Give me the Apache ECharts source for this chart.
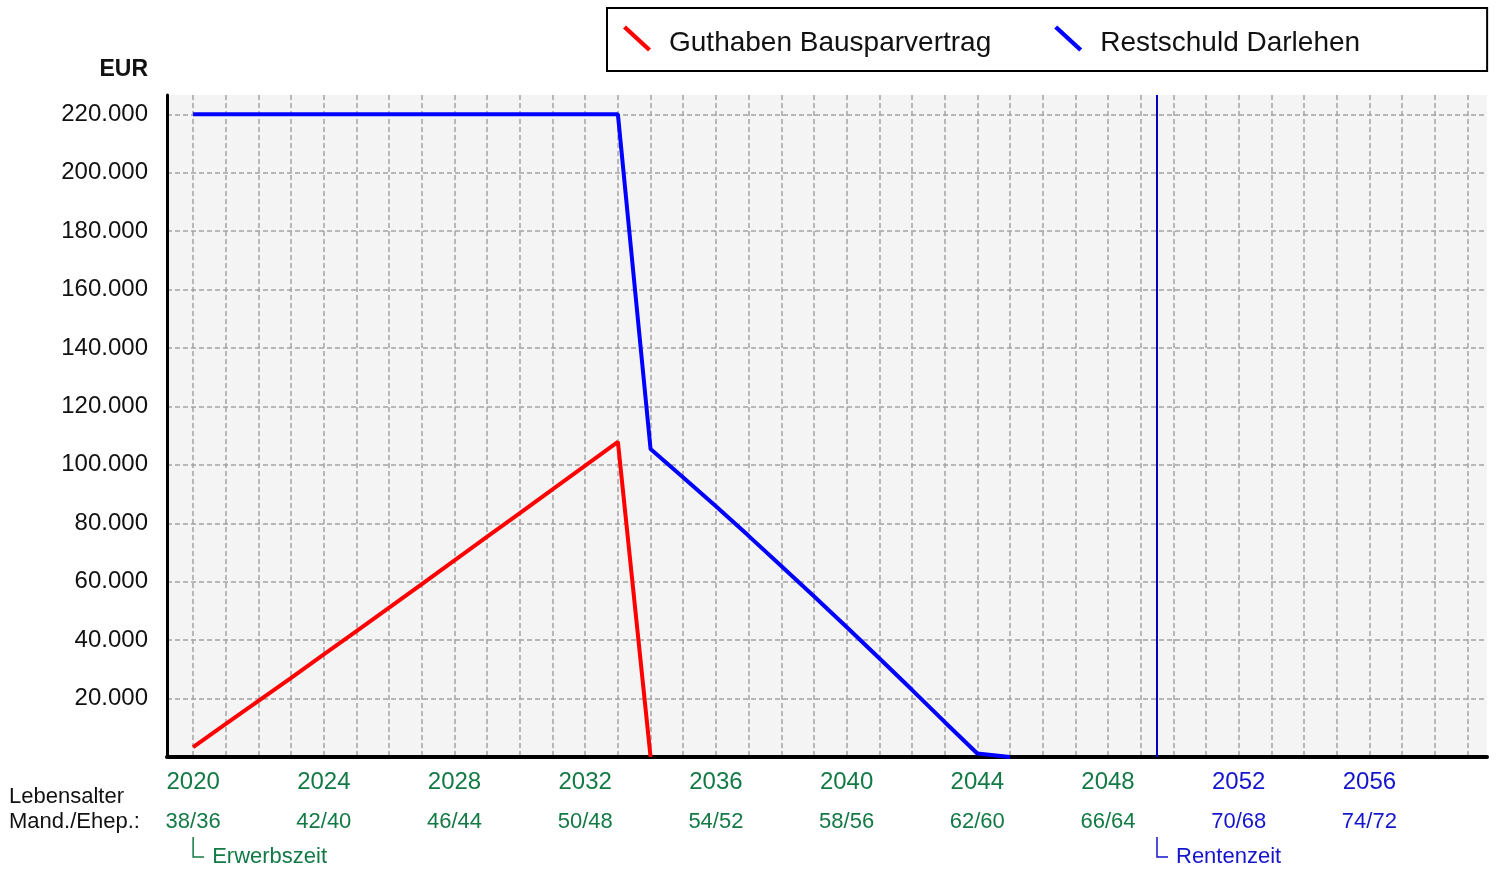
<!DOCTYPE html>
<html><head><meta charset="utf-8">
<script src="https://cdn.jsdelivr.net/npm/echarts@6/dist/echarts.min.js"></script>
<style>html,body{margin:0;padding:0;background:#fff}#c{width:1500px;height:873px}</style>
</head><body><div id="c"></div>
<script>
const seriesNames = ['Guthaben Bausparvertrag', 'Restschuld Darlehen'];
const guthabenYears = [2020,2021,2022,2023,2024,2025,2026,2027,2028,2029,2030,2031,2032,2033,2034];
const guthabenValues = [3400,11300,19200,27100,35100,43100,51100,59200,67300,75400,83500,91600,99700,107900,0];
const restschuldYears = [2020,2021,2022,2023,2024,2025,2026,2027,2028,2029,2030,2031,2032,2033,2034,2035,2036,2037,2038,2039,2040,2041,2042,2043,2044,2045];
const restschuldValues = [220000,220000,220000,220000,220000,220000,220000,220000,220000,220000,220000,220000,220000,220000,105400,95700,85800,75700,65400,55000,44500,33800,23000,12000,1200,0];
const labelYears = [2020,2024,2028,2032,2036,2040,2044,2048,2052,2056];
const ageLabels = ['38/36','42/40','46/44','50/48','54/52','58/56','62/60','66/64','70/68','74/72'];
const gridYears = [2020,2021,2022,2023,2024,2025,2026,2027,2028,2029,2030,2031,2032,2033,2034,2035,2036,2037,2038,2039,2040,2041,2042,2043,2044,2045,2046,2047,2048,2049,2050,2051,2052,2053,2054,2055,2056,2057,2058,2059];
const yTicks = [20000,40000,60000,80000,100000,120000,140000,160000,180000,200000,220000];
const retirementYear = 2049.5;
const phaseLabels = ['Erwerbszeit', 'Rentenzeit'];

const GREEN = '#137a45', BLUE = '#1515cc';
const FONT = '"Liberation Sans", Arial, sans-serif';
const fmt = v => String(v).replace(/\B(?=(\d{3})+(?!\d))/g, '.');

const chart = echarts.init(document.getElementById('c'));
const gridDash = { color: '#a3a3a3', width: 1.5, type: [5, 3] };

chart.setOption({
  animation: false,
  textStyle: { fontFamily: FONT },
  grid: { left: 167, top: 95, right: 13, bottom: 116, show: true, backgroundColor: '#f4f4f4', borderWidth: 0 },
  legend: {
    top: 8, left: 607,
    padding: [12, 127, 14, 16],
    borderColor: '#000', borderWidth: 2,
    itemWidth: 28, itemHeight: 26, itemGap: 63,
    icon: 'path://M0,3 L3,0 L28,23 L25,26 Z',
    formatter: name => '{t|' + name + '}',
    textStyle: {
      fontSize: 28, color: '#111', fontFamily: FONT,
      rich: { t: { fontSize: 28, color: '#111', fontFamily: FONT, lineHeight: 28, padding: [9, 0, 0, 13] } }
    },
    data: seriesNames
  },
  xAxis: {
    type: 'value', min: 2019.2, max: 2059.6,
    axisLine: { show: true, lineStyle: { color: '#000', width: 4 } },
    axisTick: { show: false, customValues: gridYears },
    splitLine: { show: true, lineStyle: gridDash },
    axisLabel: {
      customValues: labelYears,
      margin: 5,
      formatter: function (v) {
        const i = labelYears.indexOf(v);
        const c = v < retirementYear ? 'g' : 'b';
        return '{' + c + '|' + v + '}\n{' + c + 's|' + (ageLabels[i] || '') + '}';
      },
      rich: {
        g: { fontSize: 24, color: GREEN, lineHeight: 40, fontFamily: FONT },
        gs: { fontSize: 22, color: GREEN, lineHeight: 40, fontFamily: FONT },
        b: { fontSize: 24, color: BLUE, lineHeight: 40, fontFamily: FONT },
        bs: { fontSize: 22, color: BLUE, lineHeight: 40, fontFamily: FONT }
      }
    }
  },
  yAxis: {
    type: 'value', min: 0, max: 226600,
    axisLine: { show: true, lineStyle: { color: '#000', width: 3 } },
    axisTick: { show: false, customValues: yTicks },
    splitLine: { show: true, lineStyle: gridDash },
    axisLabel: { customValues: yTicks, fontSize: 24, color: '#111', margin: 19, formatter: v => fmt(v) }
  },
  series: [
    {
      name: seriesNames[0], type: 'line', showSymbol: false, symbol: 'none',
      color: '#ff0000', lineStyle: { width: 4, color: '#ff0000' },
      data: guthabenYears.map((y, i) => [y, guthabenValues[i]])
    },
    {
      name: seriesNames[1], type: 'line', showSymbol: false, symbol: 'none',
      color: '#0000ff', lineStyle: { width: 4, color: '#0000ff' },
      data: restschuldYears.map((y, i) => [y, restschuldValues[i]]),
      markLine: {
        silent: true, symbol: 'none', label: { show: false },
        lineStyle: { color: '#0000c0', width: 2, type: 'solid' },
        data: [{ xAxis: retirementYear }]
      }
    }
  ]
});

const x0 = chart.convertToPixel({ xAxisIndex: 0 }, labelYears[0]);
const x1 = chart.convertToPixel({ xAxisIndex: 0 }, retirementYear);
function phase(x, text, color) {
  return [
    { type: 'polyline', shape: { points: [[x, 837], [x, 857], [x + 11, 857]] }, style: { stroke: color, lineWidth: 1.5, fill: null } },
    { type: 'text', x: x + 19, y: 857, style: { text: text, fill: color, font: '22px ' + FONT, verticalAlign: 'middle' } }
  ];
}
chart.setOption({
  graphic: [
    { type: 'text', x: 148, y: 70, style: { text: 'EUR', fill: '#111', font: 'bold 23px ' + FONT, align: 'right', verticalAlign: 'middle' } },
    { type: 'text', x: 9, y: 797, style: { text: 'Lebensalter', fill: '#111', font: '22px ' + FONT, verticalAlign: 'middle' } },
    { type: 'text', x: 9, y: 822, style: { text: 'Mand./Ehep.:', fill: '#111', font: '22px ' + FONT, verticalAlign: 'middle' } }
  ].concat(phase(x0, phaseLabels[0], GREEN), phase(x1, phaseLabels[1], BLUE))
});
</script></body></html>
